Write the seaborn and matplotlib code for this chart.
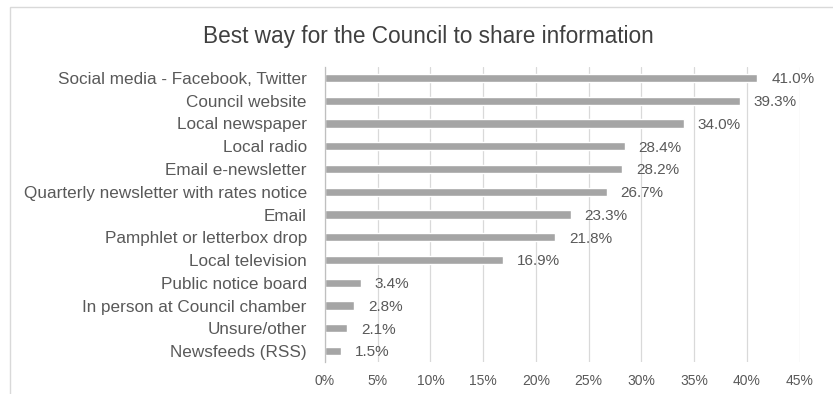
import matplotlib
matplotlib.use("Agg")
import matplotlib.pyplot as plt
import seaborn as sns
import pandas as pd
from matplotlib.patches import Rectangle
from matplotlib.ticker import MultipleLocator, FuncFormatter, FixedLocator

categories = [
    "Social media - Facebook, Twitter",
    "Council website",
    "Local newspaper",
    "Local radio",
    "Email e-newsletter",
    "Quarterly newsletter with rates notice",
    "Email",
    "Pamphlet or letterbox drop",
    "Local television",
    "Public notice board",
    "In person at Council chamber",
    "Unsure/other",
    "Newsfeeds (RSS)",
]
values = [41.0, 39.3, 34.0, 28.4, 28.2, 26.7, 23.3, 21.8, 16.9, 3.4, 2.8, 2.1, 1.5]
title = "Best way for the Council to share information"

df = pd.DataFrame({"category": categories, "value": values})

sns.set_theme(style="white")
plt.rcParams["font.family"] = ["Liberation Sans", "DejaVu Sans"]

fig = plt.figure(figsize=(8.33, 3.94), dpi=100)
ax = fig.add_axes([0.390, 0.080, 0.570, 0.751])

# figure border
fig.patches.append(Rectangle((10 / 833, -0.05), 1.2, 1 - 7 / 394 + 0.05,
                             transform=fig.transFigure, fill=False,
                             edgecolor="#d9d9d9", linewidth=1.0))

sns.barplot(data=df, y="category", x="value", orient="h", color="#a5a5a5",
            width=0.36, saturation=1, ax=ax)

ax.set_xlim(0, 45)
ax.set_ylim(len(categories) - 0.5, -0.5)
ax.xaxis.set_major_locator(MultipleLocator(5))
ax.xaxis.set_major_formatter(FuncFormatter(lambda v, p: f"{v:.0f}%"))
ax.grid(axis="x", color="#d9d9d9", linewidth=0.9)
ax.set_axisbelow(True)
ax.set_xlabel("")
ax.set_ylabel("")

for s in ["top", "right", "bottom"]:
    ax.spines[s].set_visible(False)
ax.spines["left"].set_color("#bfbfbf")
ax.spines["left"].set_linewidth(0.9)

ax.tick_params(axis="x", length=0, labelsize=10, labelcolor="#595959", pad=8)
ax.tick_params(axis="y", which="major", length=0, labelsize=12.3,
               labelcolor="#595959", pad=13)
ax.yaxis.set_minor_locator(FixedLocator([i + 0.5 for i in range(-1, len(categories))]))
ax.tick_params(axis="y", which="minor", length=4, color="#bfbfbf", width=0.9,
               direction="out")

for i, v in enumerate(values):
    ax.annotate(f"{v:.1f}%", xy=(v, i), xytext=(10, -1), textcoords="offset points",
                ha="left", va="center", fontsize=11, color="#595959")

fig.text(0.514, 1 - 36 / 394, title, ha="center", va="center",
         fontsize=16.3, color="#404040")

fig.savefig("out.png", dpi=100)
